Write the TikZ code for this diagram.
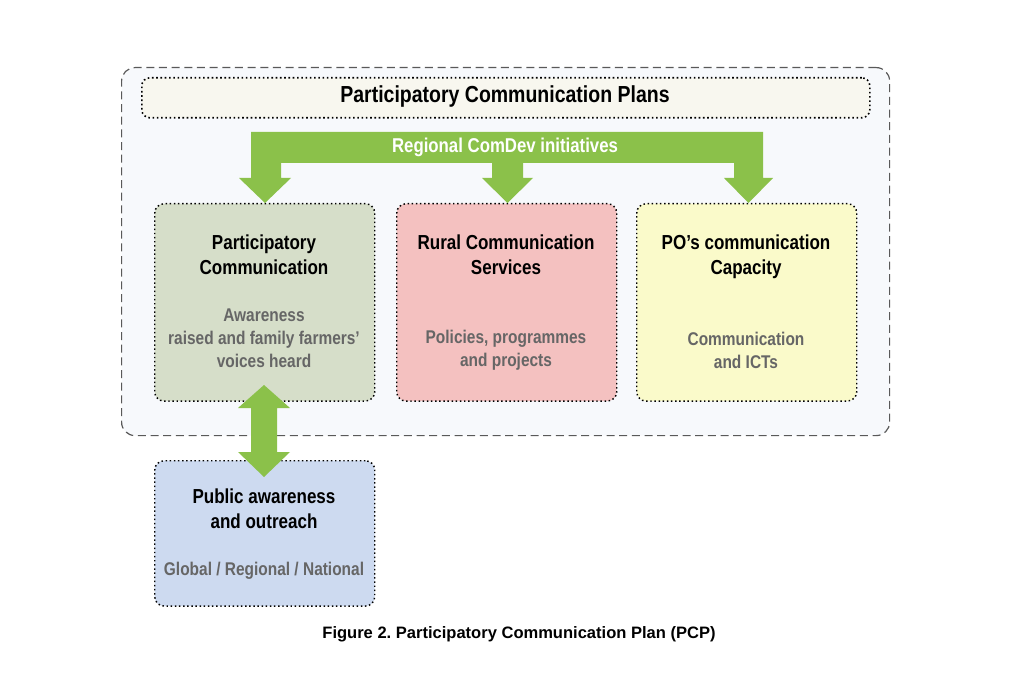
\documentclass[tikz,border=0pt]{standalone}
\usepackage{fontspec}
\setmainfont{Liberation Sans}[FakeStretch=0.84]
\newfontfamily\capfont{Liberation Sans}
\frenchspacing
\definecolor{arrowgreen}{RGB}{139,193,74}
\definecolor{outerfill}{RGB}{247,249,252}
\definecolor{titlefill}{RGB}{248,247,239}
\definecolor{boxgreen}{RGB}{214,222,201}
\definecolor{boxpink}{RGB}{244,193,192}
\definecolor{boxyellow}{RGB}{250,250,202}
\definecolor{boxblue}{RGB}{205,218,240}
\definecolor{subgray}{RGB}{102,102,102}
\tikzset{
  panel/.style={draw=black, line width=1.1pt, dotted, rounded corners=7pt, minimum width=165pt, anchor=north west},
  headtxt/.style={font=\bfseries\fontsize{15.2pt}{18.4pt}\selectfont, align=center, text=black},
  subtxt/.style={font=\bfseries\fontsize{13.8pt}{17.25pt}\selectfont, align=center, text=subgray},
  greenarrow/.style={fill=arrowgreen, draw=none}
}
\begin{document}
\begin{tikzpicture}[x=0.75pt, y=-0.75pt]
\useasboundingbox (0,0) rectangle (1024,698);
% outer container
\node[draw=black!65, line width=0.9pt, dash pattern=on 6pt off 3.5pt, rounded corners=10pt, fill=outerfill,
  minimum width=576pt, minimum height=276pt, anchor=north west, inner sep=0pt] (outer) at (121,67) {};
% title
\node[draw=black, line width=1.2pt, dotted, rounded corners=6pt, fill=titlefill,
  minimum width=546pt, minimum height=30pt, anchor=north west, inner sep=0pt] (titlebox) at (141,77) {};
\node[font=\bfseries\fontsize{17.4pt}{20pt}\selectfont] (title) at (505,96.5) {Participatory Communication Plans};
% boxes
\node[panel, fill=boxgreen, minimum height=148pt] (b1) at (154,203) {};
\node[panel, fill=boxpink, minimum height=148pt] (b2) at (396,203) {};
\node[panel, fill=boxyellow, minimum height=148pt] (b3) at (636,203) {};
\node[panel, fill=boxblue, minimum height=109pt] (b4) at (154,460) {};
% green distribution arrow
\path[greenarrow] (251,132) -- (763,132) -- (763,178) -- (773,178) -- (748.5,203) -- (724,178) -- (734,178)
  -- (734,163) -- (523,163) -- (523,178) -- (533,178) -- (507.5,203) -- (482,178) -- (492,178)
  -- (492,163) -- (281,163) -- (281,178) -- (291,178) -- (265,203) -- (239,178) -- (251,178) -- cycle;
\node[font=\bfseries\fontsize{15pt}{18pt}\selectfont, text=white] (reg) at (505,147) {Regional ComDev initiatives};
% double arrow
\path[greenarrow] (264,385) -- (290,408) -- (277,408) -- (277,452) -- (290,452) -- (264,477)
  -- (238,452) -- (251,452) -- (251,408) -- (238,408) -- cycle;
% texts
\node[headtxt] (h1) at (264,254.5) {Participatory\\Communication};
\node[subtxt] (s1) at (264,338) {Awareness\\raised and family farmers'\\voices heard};
\node[headtxt] (h2) at (506,254.5) {Rural Communication\\Services};
\node[subtxt] (s2) at (506,350.5) {Policies, programmes\\and projects};
\node[headtxt] (h3) at (746,256.5) {PO’s communication\\Capacity};
\node[subtxt] (s3) at (746,350.5) {Communication\\and ICTs};
\node[headtxt] (h4) at (264,509) {Public awareness\\and outreach};
\node[subtxt] (s4) at (264,571) {Global / Regional / National};
% caption
\node[font=\capfont\bfseries\fontsize{12.4pt}{15pt}\selectfont] (cap) at (519,634) {Figure 2. Participatory Communication Plan (PCP)};
\end{tikzpicture}
\end{document}
